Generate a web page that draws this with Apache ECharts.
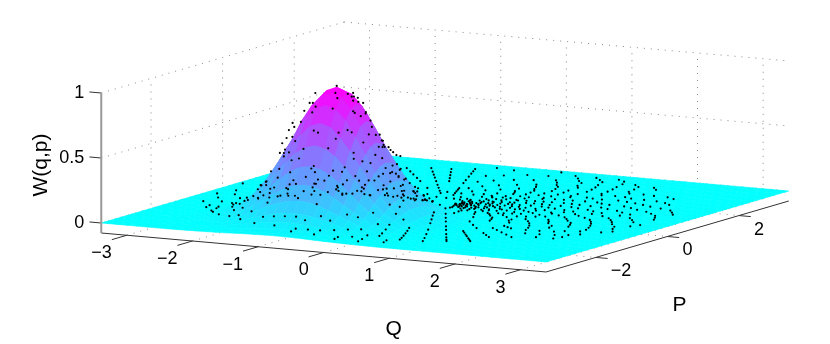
<!DOCTYPE html>
<html>
<head>
<meta charset="utf-8">
<script src="https://cdn.jsdelivr.net/npm/echarts@6/dist/echarts.min.js"></script>
<style>
html, body { margin: 0; padding: 0; background: #fff; }
#main { width: 830px; height: 344px; }
</style>
</head>
<body>
<div id="main"></div>
<script>
/* ticks */
var qTicks = [-3, -2, -1, 0, 1, 2, 3];
var pTicks = [-2, 0, 2];
var wTicks = [0, 0.5, 1];
var wTickNames = ['0', '0.5', '1'];

/* surface nodes, same for q and p */
var surfGrid = [-3.39, -3.3, -3.15, -3, -2.85, -2.7, -2.55, -2.4, -2.25, -2.1, -1.95, -1.8, -1.65, -1.5, -1.35, -1.2,
	-1.05, -0.9, -0.75, -0.6, -0.45, -0.3, -0.15, 0, 0.15, 0.3, 0.45, 0.6, 0.75, 0.9, 1.05, 1.2,
	1.35, 1.5, 1.65, 1.8, 1.95, 2.1, 2.25, 2.4, 2.55, 2.7, 2.85, 3, 3.15, 3.3, 3.39];

/* heights: rows are q nodes 6..30, columns are p nodes 0..24, the rest of the sheet is 0 */
var bumpFirstRow = 6;
var bumpHeights = [
	[0, 0, 0.001, 0.001, 0.002, 0.003, 0.004, 0.006, 0.008, 0.01, 0.012, 0.013, 0.013, 0.013, 0.012, 0.01, 0.008, 0.006, 0.004, 0.003, 0.002, 0.001, 0.001, 0, 0],
	[0, 0.001, 0.001, 0.002, 0.004, 0.006, 0.009, 0.013, 0.017, 0.021, 0.024, 0.026, 0.027, 0.026, 0.024, 0.021, 0.017, 0.013, 0.009, 0.006, 0.004, 0.002, 0.001, 0.001, 0],
	[0.001, 0.001, 0.003, 0.004, 0.007, 0.012, 0.017, 0.024, 0.031, 0.038, 0.044, 0.049, 0.05, 0.049, 0.044, 0.038, 0.031, 0.024, 0.017, 0.012, 0.007, 0.004, 0.003, 0.001, 0.001],
	[0.002, 0.002, 0.004, 0.008, 0.013, 0.02, 0.03, 0.042, 0.054, 0.067, 0.078, 0.085, 0.088, 0.085, 0.078, 0.067, 0.054, 0.042, 0.03, 0.02, 0.013, 0.008, 0.004, 0.002, 0.001],
	[0.003, 0.004, 0.007, 0.013, 0.022, 0.034, 0.05, 0.069, 0.091, 0.112, 0.13, 0.143, 0.147, 0.143, 0.13, 0.112, 0.091, 0.069, 0.05, 0.034, 0.022, 0.013, 0.007, 0.004, 0.002],
	[0.004, 0.006, 0.012, 0.02, 0.034, 0.053, 0.078, 0.109, 0.142, 0.175, 0.204, 0.223, 0.23, 0.223, 0.204, 0.175, 0.142, 0.109, 0.078, 0.053, 0.034, 0.02, 0.012, 0.006, 0.003],
	[0.006, 0.009, 0.017, 0.03, 0.05, 0.078, 0.116, 0.16, 0.21, 0.259, 0.302, 0.33, 0.34, 0.33, 0.302, 0.259, 0.21, 0.16, 0.116, 0.078, 0.05, 0.03, 0.017, 0.009, 0.004],
	[0.008, 0.013, 0.024, 0.042, 0.069, 0.109, 0.16, 0.223, 0.292, 0.36, 0.419, 0.458, 0.472, 0.458, 0.419, 0.36, 0.292, 0.223, 0.16, 0.109, 0.069, 0.042, 0.024, 0.013, 0.006],
	[0.011, 0.017, 0.031, 0.054, 0.091, 0.142, 0.21, 0.292, 0.383, 0.472, 0.549, 0.6, 0.619, 0.6, 0.549, 0.472, 0.383, 0.292, 0.21, 0.142, 0.091, 0.054, 0.031, 0.017, 0.008],
	[0.014, 0.021, 0.038, 0.067, 0.112, 0.175, 0.259, 0.36, 0.472, 0.582, 0.677, 0.755, 0.778, 0.755, 0.677, 0.582, 0.472, 0.36, 0.259, 0.175, 0.112, 0.067, 0.038, 0.021, 0.01],
	[0.016, 0.024, 0.044, 0.078, 0.13, 0.204, 0.302, 0.419, 0.549, 0.677, 0.803, 0.877, 0.905, 0.877, 0.803, 0.677, 0.549, 0.419, 0.302, 0.204, 0.13, 0.078, 0.044, 0.024, 0.012],
	[0.017, 0.026, 0.049, 0.085, 0.143, 0.223, 0.33, 0.458, 0.6, 0.755, 0.877, 0.96, 0.989, 0.96, 0.877, 0.755, 0.6, 0.458, 0.33, 0.223, 0.143, 0.085, 0.049, 0.026, 0.013],
	[0.018, 0.027, 0.05, 0.088, 0.147, 0.23, 0.34, 0.472, 0.619, 0.778, 0.905, 0.989, 1.02, 0.989, 0.905, 0.778, 0.619, 0.472, 0.34, 0.23, 0.147, 0.088, 0.05, 0.027, 0.013],
	[0.017, 0.026, 0.049, 0.085, 0.143, 0.223, 0.33, 0.458, 0.6, 0.755, 0.877, 0.96, 0.989, 0.96, 0.877, 0.755, 0.6, 0.458, 0.33, 0.223, 0.143, 0.085, 0.049, 0.026, 0.013],
	[0.016, 0.024, 0.044, 0.078, 0.13, 0.204, 0.302, 0.419, 0.549, 0.677, 0.803, 0.877, 0.905, 0.877, 0.803, 0.677, 0.549, 0.419, 0.302, 0.204, 0.13, 0.078, 0.044, 0.024, 0.012],
	[0.014, 0.021, 0.038, 0.067, 0.112, 0.175, 0.259, 0.36, 0.472, 0.582, 0.677, 0.755, 0.778, 0.755, 0.677, 0.582, 0.472, 0.36, 0.259, 0.175, 0.112, 0.067, 0.038, 0.021, 0.01],
	[0.011, 0.017, 0.031, 0.054, 0.091, 0.142, 0.21, 0.292, 0.383, 0.472, 0.549, 0.6, 0.619, 0.6, 0.549, 0.472, 0.383, 0.292, 0.21, 0.142, 0.091, 0.054, 0.031, 0.017, 0.008],
	[0.008, 0.013, 0.024, 0.042, 0.069, 0.109, 0.16, 0.223, 0.292, 0.36, 0.419, 0.458, 0.472, 0.458, 0.419, 0.36, 0.292, 0.223, 0.16, 0.109, 0.069, 0.042, 0.024, 0.013, 0.006],
	[0.006, 0.009, 0.017, 0.03, 0.05, 0.078, 0.116, 0.16, 0.21, 0.259, 0.302, 0.33, 0.34, 0.33, 0.302, 0.259, 0.21, 0.16, 0.116, 0.078, 0.05, 0.03, 0.017, 0.009, 0.004],
	[0.004, 0.006, 0.012, 0.02, 0.034, 0.053, 0.078, 0.109, 0.142, 0.175, 0.204, 0.223, 0.23, 0.223, 0.204, 0.175, 0.142, 0.109, 0.078, 0.053, 0.034, 0.02, 0.012, 0.006, 0.003],
	[0.003, 0.004, 0.007, 0.013, 0.022, 0.034, 0.05, 0.069, 0.091, 0.112, 0.13, 0.143, 0.147, 0.143, 0.13, 0.112, 0.091, 0.069, 0.05, 0.034, 0.022, 0.013, 0.007, 0.004, 0.002],
	[0.002, 0.002, 0.004, 0.008, 0.013, 0.02, 0.03, 0.042, 0.054, 0.067, 0.078, 0.085, 0.088, 0.085, 0.078, 0.067, 0.054, 0.042, 0.03, 0.02, 0.013, 0.008, 0.004, 0.002, 0.001],
	[0.001, 0.001, 0.003, 0.004, 0.007, 0.012, 0.017, 0.024, 0.031, 0.038, 0.044, 0.049, 0.05, 0.049, 0.044, 0.038, 0.031, 0.024, 0.017, 0.012, 0.007, 0.004, 0.003, 0.001, 0.001],
	[0, 0.001, 0.001, 0.002, 0.004, 0.006, 0.009, 0.013, 0.017, 0.021, 0.024, 0.026, 0.027, 0.026, 0.024, 0.021, 0.017, 0.013, 0.009, 0.006, 0.004, 0.002, 0.001, 0.001, 0],
	[0, 0, 0.001, 0.001, 0.002, 0.003, 0.004, 0.006, 0.008, 0.01, 0.012, 0.013, 0.013, 0.013, 0.012, 0.01, 0.008, 0.006, 0.004, 0.003, 0.002, 0.001, 0.001, 0, 0]
];

/* sample dots, read as rays around the origin: angle in degrees, then the radii on that ray */
var spokeAngles = [-175, -169, -163, -157, -151, -145, -139, -133, -127, -121, -115, -109, -103, -97, -91,
	-85, -79, -73, -67, -61, -55, -49, -43, -37, -31, -25, -19, -13, -7, -1,
	5, 11, 17, 23, 29, 35, 41, 47, 53, 59, 65, 71, 77, 83, 89,
	95, 101, 106, 111, 117, 122, 128, 133, 139, 145, 151, 157, 163, 169, 175,
	-148, -142, -136, -130, -124, -118, -112, -106, -100, -94, -88, -82, -76,
	-34, -28, -22, -16, -10, -4, 2, 8, 14, 20, 26, 32, 38, 44, 50, 56, 62, 68, 74, 80,
	178, -160, 160];
var spokeRadii = [
	[0.5, 1.1, 1.5, 1.95, 2.3, 2.7, 3.05],
	[0.8, 1.3, 1.75, 2.2, 2.55, 2.95, 3.2],
	[0.65, 1.2, 1.6, 2.05, 2.4, 2.8, 3.1],
	[0.9, 1.45, 1.9, 2.25, 2.65, 3.0, 3.25],
	[0.55, 1.15, 1.7, 2.1, 2.5, 2.85, 3.15],
	[0.95, 1.35, 1.8, 2.3, 2.7, 3.05],
	[0.7, 1.25, 1.6, 2.0, 2.45, 2.9, 3.2],
	[1.05, 1.5, 1.85, 2.2, 2.6, 3.0],
	[0.6, 1.2, 1.65, 1.95, 2.35, 2.75, 3.1],
	[0.85, 1.4, 1.7, 2.05, 2.5, 2.9, 3.2],
	[0.7, 1.1, 1.55, 1.8, 2.15, 2.55, 2.95],
	[0.95, 1.35, 1.65, 1.95, 2.3, 2.7, 3.1],
	[0.6, 1.25, 1.6, 1.85, 2.2, 2.6, 3.0],
	[0.9, 1.45, 1.75, 2.1, 2.5, 2.85, 3.15],
	[0.75, 1.3, 1.7, 2.25, 2.65, 3.0],
	[1.0, 1.55, 1.95, 2.4, 2.8, 3.1],
	[0.55, 0.95, 1.4, 1.84, 2.0, 2.17, 2.46, 2.62, 2.78, 2.9],
	[1.2, 2.38, 2.5, 2.62, 2.75, 2.88, 3.0],
	[0.7, 1.52, 1.68, 1.84, 2.0, 2.3, 2.55, 2.8, 3.03],
	[0.9, 1.34, 1.55, 1.75, 2.0, 2.2, 2.45, 2.7, 2.9, 3.02],
	[0.6, 1.1, 2.19, 2.32, 2.48, 2.62, 2.8, 2.92, 3.04],
	[0.45, 0.85, 1.54, 1.75, 1.97, 2.4, 2.57, 2.74],
	[0.7, 1.2, 2.03, 2.2, 2.4, 2.6, 2.82],
	[0.5, 0.95, 1.45, 1.92, 2.03, 2.14, 2.6, 2.95],
	[0.35, 0.8, 1.25, 1.7, 2.2, 2.5, 2.9, 3.1],
	[0.55, 1.0, 1.5, 1.9, 2.35, 2.7, 3.05],
	[0.4, 0.75, 1.15, 1.6, 2.05, 2.45, 2.8, 3.1],
	[0.3, 0.65, 1.05, 1.45, 1.85, 2.25, 2.6, 3.0],
	[0.5, 0.85, 1.25, 1.65, 2.0, 2.4, 2.75, 3.05],
	[0.25, 0.6, 0.95, 1.35, 1.75, 2.15, 2.55, 2.9],
	[0.45, 0.8, 1.15, 1.55, 1.9, 2.3, 2.7, 3.05],
	[0.3, 0.7, 1.05, 1.4, 1.8, 2.2, 2.6, 2.95],
	[0.4, 0.75, 1.1, 1.5, 1.95, 2.35, 2.75, 3.1],
	[0.25, 0.6, 0.9, 1.3, 1.7, 2.1, 2.5, 2.9],
	[0.35, 0.7, 1.0, 1.4, 1.8, 2.2, 2.65, 3.0],
	[0.2, 0.55, 0.85, 1.2, 1.6, 2.05, 2.45, 2.85],
	[0.3, 0.65, 0.95, 1.35, 1.75, 2.15, 2.55, 3.05],
	[0.25, 0.5, 0.8, 1.15, 1.55, 2.0, 2.4, 2.8],
	[0.4, 0.7, 1.05, 1.45, 1.85, 2.3, 2.7, 3.1],
	[0.3, 0.6, 0.95, 1.3, 1.75, 2.2, 2.6, 3.0],
	[0.45, 0.85, 1.25, 1.65, 2.05, 2.5, 2.95],
	[0.35, 0.75, 1.1, 1.55, 2.0, 2.4, 2.85, 3.15],
	[0.5, 0.95, 1.4, 1.8, 2.25, 2.7, 3.05],
	[0.4, 0.85, 1.2, 1.7, 2.1, 2.55, 3.0],
	[0.6, 1.05, 1.5, 1.95, 2.4, 2.8, 3.15],
	[0.5, 0.95, 1.35, 1.8, 2.3, 2.75],
	[0.7, 1.2, 1.65, 2.15, 2.6, 3.05],
	[0.55, 1.0, 1.45, 2.0, 2.5, 3.18],
	[0.85, 1.0, 1.15, 1.3, 1.43, 1.86, 2.1, 2.4, 2.65, 2.85, 3.04],
	[0.6, 1.1, 2.0, 2.25, 2.5, 2.75, 3.02],
	[1.0, 1.2, 1.45, 1.7, 2.0, 2.3, 2.55, 2.8, 3.1],
	[0.7, 1.45, 2.03, 2.3, 2.6, 2.85, 3.14],
	[0.95, 1.45, 1.9, 2.2, 2.5, 2.85, 3.2],
	[0.6, 1.2, 1.7, 2.1, 2.55, 3.0],
	[0.85, 1.3, 1.85, 2.3, 2.7, 3.1],
	[0.5, 1.05, 1.55, 2.0, 2.45, 2.9, 3.25],
	[0.8, 1.25, 1.75, 2.2, 2.6, 3.0],
	[0.6, 1.15, 1.6, 2.05, 2.5, 2.9, 3.2],
	[0.9, 1.4, 1.85, 2.3, 2.7, 3.1],
	[0.7, 1.2, 1.65, 2.1, 2.55, 2.95, 3.25],
	[2.35, 2.8, 3.2],
	[2.1, 2.6, 3.1],
	[2.3, 2.75, 3.22],
	[1.4, 2.5, 2.95, 3.25],
	[1.05, 2.3, 2.7, 3.05, 3.25],
	[1.35, 2.4, 2.8, 3.1, 3.28],
	[0.85, 1.5, 2.45, 2.85, 3.15, 3.3],
	[1.15, 1.75, 2.5, 2.8, 3.05, 3.25],
	[1.4, 2.0, 2.4, 2.75, 3.0, 3.2, 3.3],
	[1.1, 1.55, 2.05, 2.45, 2.85, 3.1, 3.25],
	[1.35, 1.85, 2.6, 2.9, 3.2, 3.3],
	[0.8, 2.1, 2.55, 2.95, 3.15, 3.3],
	[1.6, 2.2, 3.1, 3.25],
	[0.25, 0.65, 1.35, 2.35, 2.75, 3.15],
	[0.45, 1.1, 1.55, 2.05, 2.65, 3.0],
	[0.3, 0.9, 1.3, 1.75, 2.25, 2.85],
	[0.55, 1.0, 1.35, 1.95, 2.35, 2.7, 3.15],
	[0.2, 0.45, 0.75, 1.15, 1.55, 2.1, 2.5, 2.9],
	[0.35, 0.7, 1.1, 1.5, 1.9, 2.3, 2.65, 3.1],
	[0.15, 0.5, 0.85, 1.25, 1.6, 2.0, 2.45, 2.8],
	[0.3, 0.6, 1.0, 1.3, 1.7, 2.1, 2.5, 3.0],
	[0.2, 0.55, 0.9, 1.25, 1.65, 2.05, 2.45, 2.85, 3.15],
	[0.35, 0.65, 1.0, 1.4, 1.8, 2.2, 2.6, 3.05],
	[0.15, 0.45, 0.8, 1.15, 1.55, 1.95, 2.4, 2.75],
	[0.3, 0.6, 0.9, 1.3, 1.7, 2.1, 2.55, 2.95],
	[0.2, 0.45, 0.75, 1.1, 1.45, 1.9, 2.35, 2.7, 3.1],
	[0.35, 0.6, 0.9, 1.25, 1.65, 2.05, 2.5, 2.9],
	[0.15, 0.45, 0.7, 1.05, 1.4, 1.8, 2.25, 2.65],
	[0.25, 0.55, 0.85, 1.2, 1.6, 2.0, 2.45, 2.85, 3.15],
	[0.4, 0.7, 1.05, 1.5, 1.9, 2.35, 2.75, 3.05],
	[0.3, 0.6, 1.0, 1.4, 1.85, 2.3, 2.65, 3.1],
	[0.45, 0.9, 1.3, 1.7, 2.15, 2.6, 2.95],
	[0.55, 1.0, 1.5, 1.95, 2.4, 2.85],
	[0.2, 0.35, 0.45],
	[0.3],
	[0.25, 0.4]
];

/* dots that float just off the outline of the bump: q, p, w */
var strayDots = [
	[-1.0, -1.79, 0.977], [-1.07, -1.82, 0.9], [-1.13, -1.86, 0.84], [-1.17, -1.88, 0.754], [-1.27, -1.93, 0.746],
	[-1.25, -1.92, 0.715], [-1.31, -1.96, 0.692], [-1.34, -1.97, 0.63], [-1.39, -2.0, 0.59], [-1.42, -2.01, 0.515],
	[-1.37, -1.99, 0.515], [-0.62, -1.58, 0.97], [-0.56, -1.54, 0.977], [-0.5, -1.52, 0.94], [-0.44, -1.48, 0.9],
	[-0.41, -1.46, 0.83], [-0.34, -1.42, 0.715], [-0.29, -1.4, 0.654], [-0.2, -1.35, 0.577], [-0.14, -1.32, 0.56],
	[-0.11, -1.32, 0.54], [-0.07, -1.32, 0.525], [-0.02, -1.32, 0.505], [0.04, -1.32, 0.5]
];

var qMin = -3.39, qMax = 3.39, pMin = -3.39, pMax = 3.39, wFloor = -0.077;

/* the 3d box is flattened by hand, the hidden cartesian axes then place everything */
function project(q, p, w){
	return [445 + 65.6 * q + 35.8 * p, 207 + 5.75 * q - 10.47 * p - 130 * w];
}

function height(i, j){
	var row = bumpHeights[i - bumpFirstRow];
	if(!row || row[j] === undefined){
		return 0;
	}
	return row[j];
}

function nodeBefore(v){
	var k = 0;
	while(k < surfGrid.length - 2 && surfGrid[k + 1] < v){
		k++;
	}
	return k;
}

function surfaceAt(q, p){
	var i = nodeBefore(q), j = nodeBefore(p);
	var a = (q - surfGrid[i]) / (surfGrid[i + 1] - surfGrid[i]);
	var b = (p - surfGrid[j]) / (surfGrid[j + 1] - surfGrid[j]);
	return (1 - a) * (1 - b) * height(i, j) + a * (1 - b) * height(i + 1, j)
		+ (1 - a) * b * height(i, j + 1) + a * b * height(i + 1, j + 1);
}

/* far cells first so the near side of the bump covers them */
var cells = [];
for(var i = 0; i < surfGrid.length - 1; i++){
	for(var j = surfGrid.length - 2; j >= 0; j--){
		cells.push([i, j]);
	}
}

var dotData = [];
spokeAngles.forEach(function(angle, k){
	spokeRadii[k].forEach(function(r){
		var q = r * Math.cos(angle * Math.PI / 180);
		var p = r * Math.sin(angle * Math.PI / 180);
		dotData.push(project(q, p, surfaceAt(q, p) + 0.015));
	});
});
strayDots.forEach(function(d){
	dotData.push(project(d[0], d[1], d[2]));
});

function seg(a, b){
	var s = project(a[0], a[1], a[2]), e = project(b[0], b[1], b[2]);
	return [s[0], s[1], e[0], e[1]];
}

var gridSegs = [];
pTicks.forEach(function(p){
	gridSegs.push(seg([qMin, p, wFloor], [qMin, p, 1]));
	gridSegs.push(seg([qMin, p, wFloor], [qMax, p, wFloor]));
});
qTicks.forEach(function(q){
	gridSegs.push(seg([q, pMax, wFloor], [q, pMax, 1]));
	gridSegs.push(seg([q, pMin, wFloor], [q, pMax, wFloor]));
});
wTicks.forEach(function(w){
	gridSegs.push(seg([qMin, pMin, w], [qMin, pMax, w]));
	gridSegs.push(seg([qMin, pMax, w], [qMax, pMax, w]));
});

var axisSegs = [seg([qMin, pMin, wFloor], [qMax, pMin, wFloor]), seg([qMax, pMin, wFloor], [qMax, pMax, wFloor])];
qTicks.forEach(function(q){
	axisSegs.push(seg([q, pMin, wFloor], [q, pMin - 0.42, wFloor]));
});
pTicks.forEach(function(p){
	axisSegs.push(seg([qMax, p, wFloor], [qMax + 0.18, p, wFloor]));
});
wTicks.forEach(function(w){
	axisSegs.push(seg([qMin, pMin, w], [qMin - 0.18, pMin, w]));
});

var labelFont = '18px "Liberation Sans", Arial, sans-serif';
var titleFont = '21px "Liberation Sans", Arial, sans-serif';
var texts = [];
function addText(pos, dx, dy, text, align, font, rotate){
	texts.push({x: pos[0], y: pos[1], dx: dx, dy: dy, text: text, align: align, font: font, rotate: rotate || 0});
}
qTicks.forEach(function(q){
	addText(project(q, pMin, wFloor), -15, 18, String(q).replace('-', '\u2212'), 'right', labelFont);
});
pTicks.forEach(function(p){
	addText(project(qMax, p, wFloor), 15, 14, String(p).replace('-', '\u2212'), 'left', labelFont);
});
wTicks.forEach(function(w, k){
	addText(project(qMin, pMin, w), -17, 0, wTickNames[k], 'right', labelFont);
});
addText(project(0, pMin, wFloor), 70, 77, 'Q', 'center', titleFont);
addText(project(qMax, 0, wFloor), 12, 69, 'P', 'center', titleFont);
addText(project(qMin, pMin, 0.5), -60, 7, 'W(q,p)', 'center', titleFont, Math.PI / 2);

function lineSeries(segs, style, z){
	return {
		type: 'custom',
		coordinateSystem: 'cartesian2d',
		silent: true,
		clip: false,
		z: z,
		data: segs,
		encode: {x: [0, 2], y: [1, 3]},
		renderItem: function(params, api){
			var a = api.coord([api.value(0), api.value(1)]);
			var b = api.coord([api.value(2), api.value(3)]);
			return {
				type: 'line',
				shape: {x1: a[0], y1: a[1], x2: b[0], y2: b[1]},
				style: style
			};
		}
	};
}

var dom = document.getElementById('main');
var myChart = echarts.init(dom, null, {renderer: 'canvas'});

var option = {
	animation: false,
	grid: {left: 0, right: 0, top: 0, bottom: 0},
	xAxis: {type: 'value', min: 0, max: 830, show: false},
	yAxis: {type: 'value', min: 0, max: 344, inverse: true, show: false},
	series: [
		lineSeries(gridSegs, {stroke: '#888', lineWidth: 1, lineDash: [1, 6], fill: null}, 1),
		{
			type: 'custom',
			coordinateSystem: 'cartesian2d',
			silent: true,
			clip: false,
			z: 2,
			data: cells,
			encode: {x: 0, y: 1},
			renderItem: function(params, api){
				var i = api.value(0), j = api.value(1);
				var corners = [[i, j], [i + 1, j], [i + 1, j + 1], [i, j + 1]];
				var sum = 0;
				var points = corners.map(function(c){
					var w = height(c[0], c[1]);
					sum += w;
					return api.coord(project(surfGrid[c[0]], surfGrid[c[1]], w));
				});
				var color = echarts.color.lerp(Math.min(1, Math.max(0, sum / 4)), ['#00ffff', '#ff00ff']);
				return {
					type: 'polygon',
					shape: {points: points},
					style: {fill: color, stroke: color, lineWidth: 0.6}
				};
			}
		},
		lineSeries(axisSegs, {stroke: '#333', lineWidth: 1, fill: null}, 3),
		lineSeries([seg([qMin, pMin, wFloor], [qMin, pMin, 1])], {stroke: '#999', lineWidth: 2, fill: null}, 3),
		{
			type: 'scatter',
			silent: true,
			z: 4,
			symbolSize: 2.2,
			itemStyle: {color: '#000', opacity: 1},
			data: dotData
		},
		{
			type: 'custom',
			coordinateSystem: 'cartesian2d',
			silent: true,
			clip: false,
			z: 5,
			data: texts.map(function(t, k){ return [t.x, t.y, k]; }),
			encode: {x: 0, y: 1},
			renderItem: function(params, api){
				var t = texts[api.value(2)];
				var c = api.coord([api.value(0), api.value(1)]);
				return {
					type: 'text',
					x: c[0] + t.dx,
					y: c[1] + t.dy,
					rotation: t.rotate,
					style: {text: t.text, font: t.font, fill: '#000', textAlign: t.align, textVerticalAlign: 'middle'}
				};
			}
		}
	]
};

if (option && typeof option === 'object') {
	myChart.setOption(option);
}

window.addEventListener('resize', myChart.resize);
</script>
</body>
</html>
